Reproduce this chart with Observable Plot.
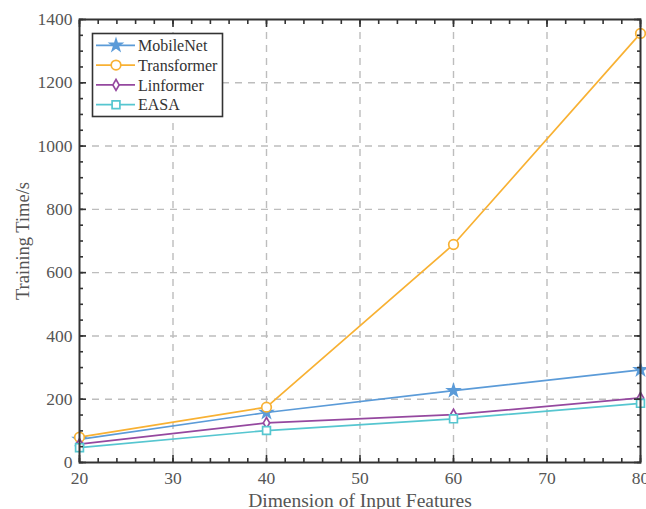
<!DOCTYPE html>
<html><head><meta charset="utf-8">
<script src="https://cdn.jsdelivr.net/npm/d3@7"></script>
<script src="https://cdn.jsdelivr.net/npm/@observablehq/plot@0.6"></script>
<style>body{margin:0;background:#fff}</style>
</head><body><div id="chart"></div>
<script>
const dims = [20, 40, 60, 80];
const mobileNet = [73, 158, 227, 293];
const transformer = [80, 175, 689, 1356];
const linformer = [58, 125, 151, 204];
const easa = [47, 101, 138, 187];
const seriesNames = ["MobileNet", "Transformer", "Linformer", "EASA"];
const seriesValues = [mobileNet, transformer, linformer, easa];
const seriesColors = ["#5b9bd8", "#f8b133", "#95489f", "#56c6d0"];
const seriesSymbols = ["star", "circle", "diamond", "square"];
const symbolRadius = {star: 3.6, circle: 4.8, diamond: 3.3, square: 4.4};
const xMajorTicks = [20, 30, 40, 50, 60, 70, 80];
const xMinorTicks = d3.range(20, 81, 2);
const yMajorTicks = [0, 200, 400, 600, 800, 1000, 1200, 1400];
const yMinorTicks = d3.range(0, 1401, 50);
const xGrid = [30, 40, 50, 60, 70];
const yGrid = [200, 400, 600, 800, 1000, 1200];

const rows = seriesNames.flatMap((s, i) => dims.map((d, j) => ({series: s, dim: d, value: seriesValues[i][j]})));

const lineMarks = seriesNames.map((s, i) => Plot.line(rows.filter(r => r.series === s), {x: "dim", y: "value", stroke: seriesColors[i], strokeWidth: 1.7}));
const dotMarks = seriesNames.map((s, i) => Plot.dot(rows.filter(r => r.series === s), {x: "dim", y: "value", stroke: seriesColors[i], fill: seriesSymbols[i] === "star" ? seriesColors[i] : "white", symbol: seriesSymbols[i], r: symbolRadius[seriesSymbols[i]], strokeWidth: 1.7}));

const gridStyle = {stroke: "#bdbdbd", strokeOpacity: 1, strokeWidth: 1.4, strokeDasharray: "7,6"};
const tickStyle = {stroke: "#333", strokeWidth: 1.6, label: null, tickFormat: () => ""};
const FONT = "'Liberation Serif', 'Times New Roman', serif";

const chart = Plot.plot({
  width: 646, height: 509,
  marginLeft: 79, marginRight: 6, marginTop: 19, marginBottom: 47,
  style: {fontFamily: FONT, fontSize: "17px", color: "#555", background: "white"},
  x: {domain: [20, 80]},
  y: {domain: [0, 1400]},
  marks: [
    Plot.gridX(xGrid, gridStyle),
    Plot.gridY(yGrid, gridStyle),
    ...lineMarks,
    ...dotMarks,
    Plot.axisX(xMinorTicks, {...tickStyle, anchor: "bottom", tickSize: -4}),
    Plot.axisX(xMajorTicks, {...tickStyle, anchor: "bottom", tickSize: -7}),
    Plot.axisX(xMinorTicks, {...tickStyle, anchor: "top", tickSize: -4}),
    Plot.axisX(xMajorTicks, {...tickStyle, anchor: "top", tickSize: -7}),
    Plot.axisY(yMinorTicks, {...tickStyle, anchor: "left", tickSize: -4}),
    Plot.axisY(yMajorTicks, {...tickStyle, anchor: "left", tickSize: -7}),
    Plot.axisY(yMinorTicks, {...tickStyle, anchor: "right", tickSize: -4}),
    Plot.axisY(yMajorTicks, {...tickStyle, anchor: "right", tickSize: -7}),
    Plot.axisX(xMajorTicks, {anchor: "bottom", tickSize: 0, tickPadding: 9, fontSize: 17.5, tickFormat: d => String(d), label: null}),
    Plot.axisY(yMajorTicks, {anchor: "left", tickSize: 0, tickPadding: 7, fontSize: 17.5, tickFormat: d => String(d), label: null}),
    Plot.axisX({anchor: "bottom", tickSize: 0, tickFormat: () => "", fontSize: 19.5, label: "Dimension of Input Features", labelAnchor: "center", labelOffset: 44, labelArrow: "none"}),
    Plot.axisY({anchor: "left", tickSize: 0, tickFormat: () => "", fontSize: 18.5, label: "Training Time/s", labelAnchor: "center", labelOffset: 64, labelArrow: "none"}),
    Plot.frame({stroke: "#333", strokeWidth: 2})
  ]
});
document.getElementById("chart").appendChild(chart);

// legend
const svg = d3.select(chart);
const lg = svg.append("g").attr("font-family", FONT).attr("font-size", 16).attr("text-anchor", "start");
lg.append("rect").attr("x", 92.5).attr("y", 33.5).attr("width", 130).attr("height", 83).attr("fill", "white").attr("stroke", "#333").attr("stroke-width", 1.6);
const symMap = {star: d3.symbolStar, circle: d3.symbolCircle, diamond: d3.symbolDiamond, square: d3.symbolSquare};
seriesNames.forEach((s, i) => {
  const y = 45.3 + i * 19.8;
  lg.append("line").attr("x1", 96).attr("x2", 135).attr("y1", y).attr("y2", y).attr("stroke", seriesColors[i]).attr("stroke-width", 1.7);
  const r = symbolRadius[seriesSymbols[i]];
  lg.append("path").attr("transform", `translate(116,${y})`).attr("d", d3.symbol(symMap[seriesSymbols[i]], Math.PI * r * r)())
    .attr("stroke", seriesColors[i]).attr("stroke-width", 1.7).attr("fill", seriesSymbols[i] === "star" ? seriesColors[i] : "white");
  lg.append("text").attr("x", 138).attr("y", y).attr("dy", "0.35em").attr("fill", "#333").text(s);
});
</script></body></html>
